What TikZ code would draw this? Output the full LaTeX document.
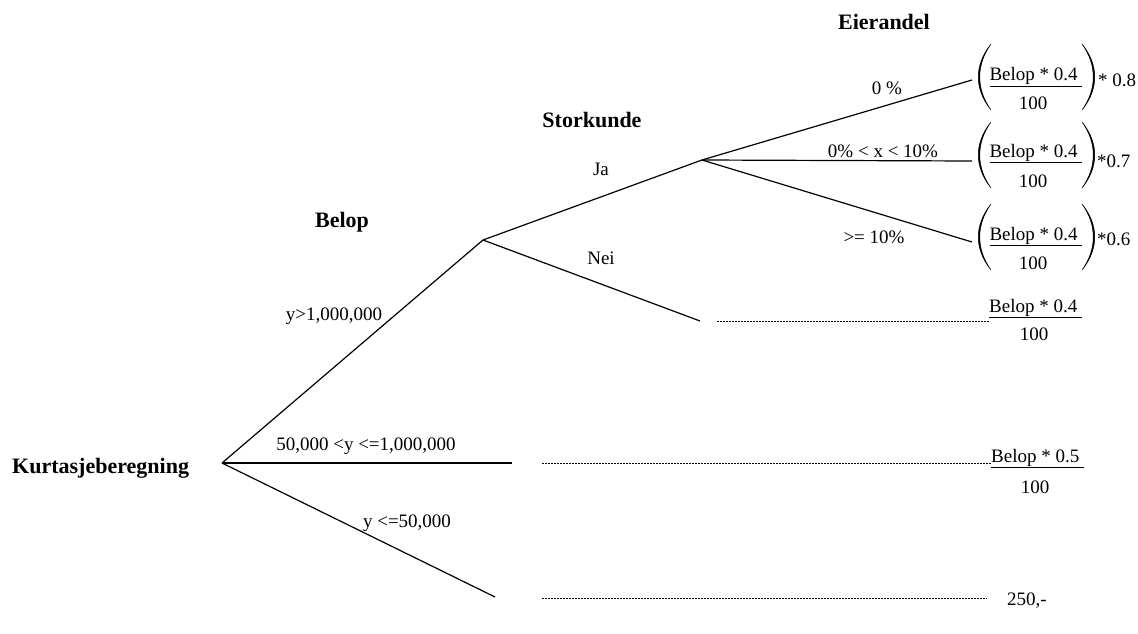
\documentclass[tikz,border=0pt]{standalone}
\usepackage{fontspec}
\setmainfont{Liberation Serif}
\usepackage{tikz}
\tikzset{branch/.style = {line width = 1.2pt},
  dotline/.style = {line width = 1pt, dash pattern = on 1.6pt off 1.4pt},
  lbl/.style = {font = \fontsize{19}{21}\selectfont, inner sep = 0pt, anchor = base},
  head/.style = {font = \fontsize{22}{24}\selectfont\bfseries, inner sep = 0pt, anchor = base},
  paren/.style = {fill, draw, line width = 0.5pt}}
% big curved brackets round a fraction, #1 = centre coordinate
\newcommand{\fracparens}[1]{
  \draw [paren] ([shift = {(-45, -33)}]#1) .. controls ([shift = {(-62, -12)}]#1) and ([shift = {(-62, 12)}]#1) .. ([shift = {(-45, 33)}]#1)
    .. controls ([shift = {(-60, 12)}]#1) and ([shift = {(-60, -12)}]#1) .. cycle;
  \draw [paren] ([shift = {(46, -33)}]#1) .. controls ([shift = {(63, -12)}]#1) and ([shift = {(63, 12)}]#1) .. ([shift = {(46, 33)}]#1)
    .. controls ([shift = {(61, 12)}]#1) and ([shift = {(61, -12)}]#1) .. cycle;}

\begin{document}
\begin{tikzpicture}[x = 1pt, y = -1pt]
    \useasboundingbox (0, 0) rectangle (1138, 634);
    % tree points
    \coordinate (root) at (222, 463);
    \coordinate (big) at (483, 240);
    \coordinate (mid) at (512, 463);
    \coordinate (low) at (495, 597);
    \coordinate (ja) at (702, 160);
    \coordinate (nei) at (700, 321);
    \coordinate (e0) at (972, 80);
    \coordinate (e1) at (972, 161);
    \coordinate (e2) at (972, 242);
    \coordinate (neid) at (717, 321);
    \coordinate (midd) at (542, 463);
    \coordinate (lowd) at (542, 598);
    \coordinate (lowe) at (987, 598);
    % headings
    \node [head, anchor = base west] (kurt) at (12, 473) {Kurtasjeberegning};
    \node [head] (belop) at (342, 227) {Belop};
    \node [head] (stor) at (592, 127) {Storkunde};
    \node [head] (eier) at (884, 30) {Eierandel};
    % branches
    \draw [branch] (root) -- (big);
    \draw [branch] (root) -- (mid);
    \draw [branch] (root) -- (low);
    \draw [branch] (big) -- (ja);
    \draw [branch] (big) -- (nei);
    \draw [branch] (ja) -- (e0);
    \draw [branch] (ja) -- (e1);
    \draw [branch] (ja) -- (e2);
    \node [lbl] (lbig) at (334, 320) {y>1,000,000};
    \node [lbl] (lmid) at (366, 450) {50,000 <y <=1,000,000};
    \node [lbl] (llow) at (407, 527) {y <=50,000};
    \node [lbl] (lja) at (601, 175) {Ja};
    \node [lbl] (lnei) at (601, 264) {Nei};
    \node [lbl] (l0) at (887, 95) {0 \%};
    \node [lbl] (l1) at (883, 157) {0\% < x < 10\%};
    \node [lbl] (l2) at (874, 243) {>= 10\%};
    % results with brackets
    \coordinate (p0) at (1036, 77);
    \coordinate (p1) at (1036, 155);
    \coordinate (p2) at (1036, 237);
    \fracparens{p0}
    \fracparens{p1}
    \fracparens{p2}
    \node [lbl] (n0) at (1036, 81) {\underline{Belop * 0.4 }};
    \node [lbl] (d0) at (1033, 109) {100};
    \node [lbl, anchor = base west] (m0) at (1098, 87) {* 0.8};
    \node [lbl] (n1) at (1036, 157) {\underline{Belop * 0.4 }};
    \node [lbl] (d1) at (1033, 187) {100};
    \node [lbl, anchor = base west] (m1) at (1097, 167) {*0.7};
    \node [lbl] (n2) at (1036, 240) {\underline{Belop * 0.4 }};
    \node [lbl] (d2) at (1033, 269) {100};
    \node [lbl, anchor = base west] (m2) at (1097, 245) {*0.6};
    % results on dotted lines
    \node [lbl, anchor = base west] (rnei) at (989, 312) {\underline{Belop * 0.4 }};
    \node [lbl] (rneid) at (1034, 340) {100};
    \node [lbl, anchor = base west] (rmid) at (991, 462) {\underline{Belop * 0.5 }};
    \node [lbl] (rmidd) at (1035, 493) {100};
    \node [lbl] (rlow) at (1027, 605) {250,-};
    \draw [dotline] (neid) -- (rnei.west |- neid);
    \draw [dotline] (midd) -- (rmid.west |- midd);
    \draw [dotline] (lowd) -- (lowe);
  \end{tikzpicture}
\end{document}
